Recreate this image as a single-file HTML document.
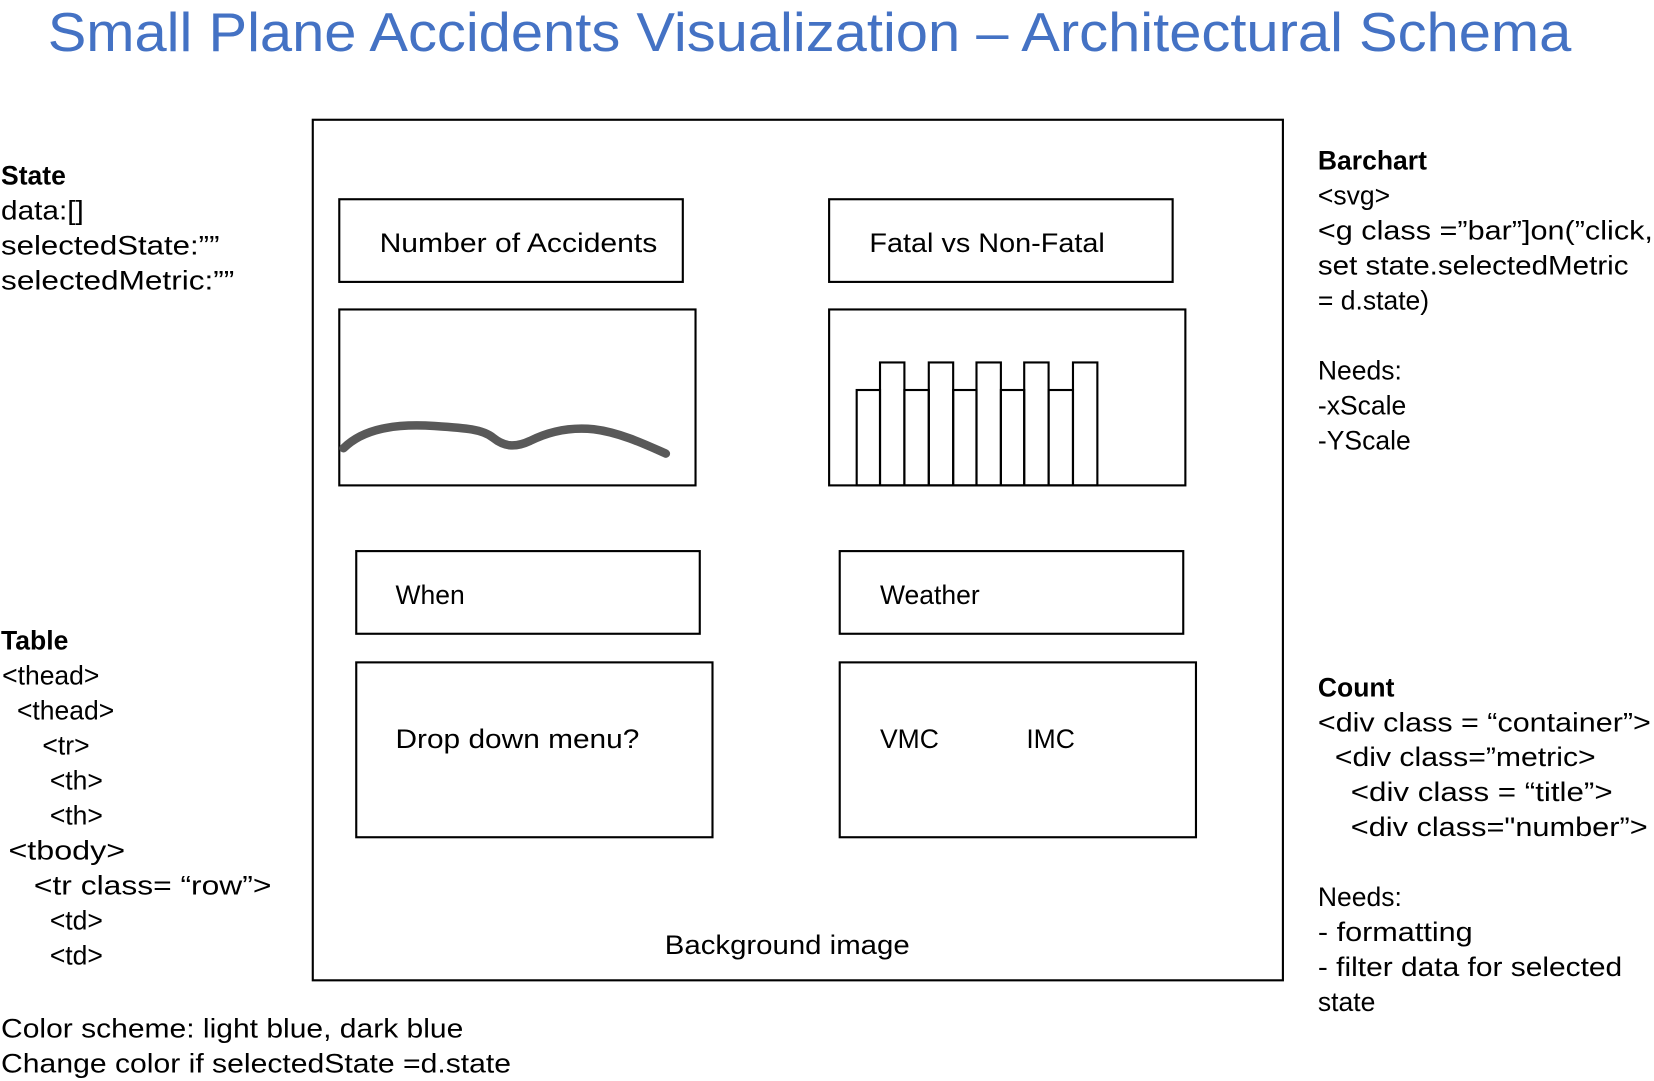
<!DOCTYPE html>
<html><head><meta charset="utf-8"><style>
html,body{margin:0;padding:0;background:#fff;}
svg{display:block;}
text{font-family:"Liberation Sans",sans-serif;font-size:25px;fill:#000;}
.b{font-weight:bold;}
</style></head><body>
<svg width="1654" height="1081" viewBox="0 0 1560 1020" preserveAspectRatio="none" xmlns="http://www.w3.org/2000/svg">
<text x="45" y="48" style="font-size:52px;fill:#4472C4" textLength="1437" lengthAdjust="spacingAndGlyphs">Small Plane Accidents Visualization – Architectural Schema</text>
<g fill="none" stroke="#000" stroke-width="2">
<rect x="295" y="113" width="915" height="812"/>
<rect x="320" y="188" width="324" height="78"/>
<rect x="782" y="188" width="324" height="78"/>
<rect x="320" y="292" width="336" height="166"/>
<rect x="782" y="292" width="336" height="166"/>
<rect x="336" y="520" width="324" height="78"/>
<rect x="792" y="520" width="324" height="78"/>
<rect x="336" y="625" width="336" height="165"/>
<rect x="792" y="625" width="336" height="165"/>
<rect x="808" y="368" width="22" height="90"/>
<rect x="830" y="342" width="23" height="116"/>
<rect x="853" y="368" width="23" height="90"/>
<rect x="876" y="342" width="23" height="116"/>
<rect x="899" y="368" width="22" height="90"/>
<rect x="921" y="342" width="23" height="116"/>
<rect x="944" y="368" width="22" height="90"/>
<rect x="966" y="342" width="23" height="116"/>
<rect x="989" y="368" width="23" height="90"/>
<rect x="1012" y="342" width="23" height="116"/>
</g>
<path d="M324,423 C345,402 380,400 410,402 C440,404 455,405 465,413 C475,421 485,423 500,416 C520,406 540,403 560,405 C585,408 610,420 628,428" fill="none" stroke="#595959" stroke-width="8" stroke-linecap="round"/>
<text x="358" y="238" textLength="262" lengthAdjust="spacingAndGlyphs">Number of Accidents</text>
<text x="820" y="238" textLength="222" lengthAdjust="spacingAndGlyphs">Fatal vs Non-Fatal</text>
<text x="373" y="570">When</text>
<text x="830" y="570">Weather</text>
<text x="373" y="706" textLength="230" lengthAdjust="spacingAndGlyphs">Drop down menu?</text>
<text x="830" y="706">VMC</text>
<text x="968" y="706">IMC</text>
<text x="627" y="900" textLength="231" lengthAdjust="spacingAndGlyphs">Background image</text>

<text x="1" y="174" class="b">State</text>
<text x="1" y="207" textLength="78" lengthAdjust="spacingAndGlyphs">data:[]</text>
<text x="1" y="240" textLength="206" lengthAdjust="spacingAndGlyphs">selectedState:””</text>
<text x="1" y="273" textLength="220" lengthAdjust="spacingAndGlyphs">selectedMetric:””</text>

<text x="1" y="613" class="b">Table</text>
<text x="2" y="646">&lt;thead&gt;</text>
<text x="16" y="679">&lt;thead&gt;</text>
<text x="40" y="712">&lt;tr&gt;</text>
<text x="47" y="745">&lt;th&gt;</text>
<text x="47" y="778">&lt;th&gt;</text>
<text x="8" y="811" textLength="110" lengthAdjust="spacingAndGlyphs">&lt;tbody&gt;</text>
<text x="32" y="844" textLength="224" lengthAdjust="spacingAndGlyphs">&lt;tr class= “row”&gt;</text>
<text x="47" y="877">&lt;td&gt;</text>
<text x="47" y="910">&lt;td&gt;</text>
<text x="1" y="979" textLength="436" lengthAdjust="spacingAndGlyphs">Color scheme: light blue, dark blue</text>
<text x="1" y="1012" textLength="481" lengthAdjust="spacingAndGlyphs">Change color if selectedState =d.state</text>

<text x="1243" y="160" class="b">Barchart</text>
<text x="1243" y="193">&lt;svg&gt;</text>
<text x="1243" y="226" textLength="316" lengthAdjust="spacingAndGlyphs">&lt;g class =”bar”]on(”click,</text>
<text x="1243" y="259" textLength="293" lengthAdjust="spacingAndGlyphs">set state.selectedMetric</text>
<text x="1243" y="292">= d.state)</text>
<text x="1243" y="358">Needs:</text>
<text x="1243" y="391">-xScale</text>
<text x="1243" y="424">-YScale</text>

<text x="1243" y="657" class="b">Count</text>
<text x="1243" y="690" textLength="314" lengthAdjust="spacingAndGlyphs">&lt;div class = “container”&gt;</text>
<text x="1259" y="723" textLength="246" lengthAdjust="spacingAndGlyphs">&lt;div class=”metric&gt;</text>
<text x="1274" y="756" textLength="247" lengthAdjust="spacingAndGlyphs">&lt;div class = “title”&gt;</text>
<text x="1274" y="789" textLength="280" lengthAdjust="spacingAndGlyphs">&lt;div class="number”&gt;</text>
<text x="1243" y="855">Needs:</text>
<text x="1243" y="888" textLength="146" lengthAdjust="spacingAndGlyphs">- formatting</text>
<text x="1243" y="921" textLength="287" lengthAdjust="spacingAndGlyphs">- filter data for selected</text>
<text x="1243" y="954">state</text>
</svg>
</body></html>
